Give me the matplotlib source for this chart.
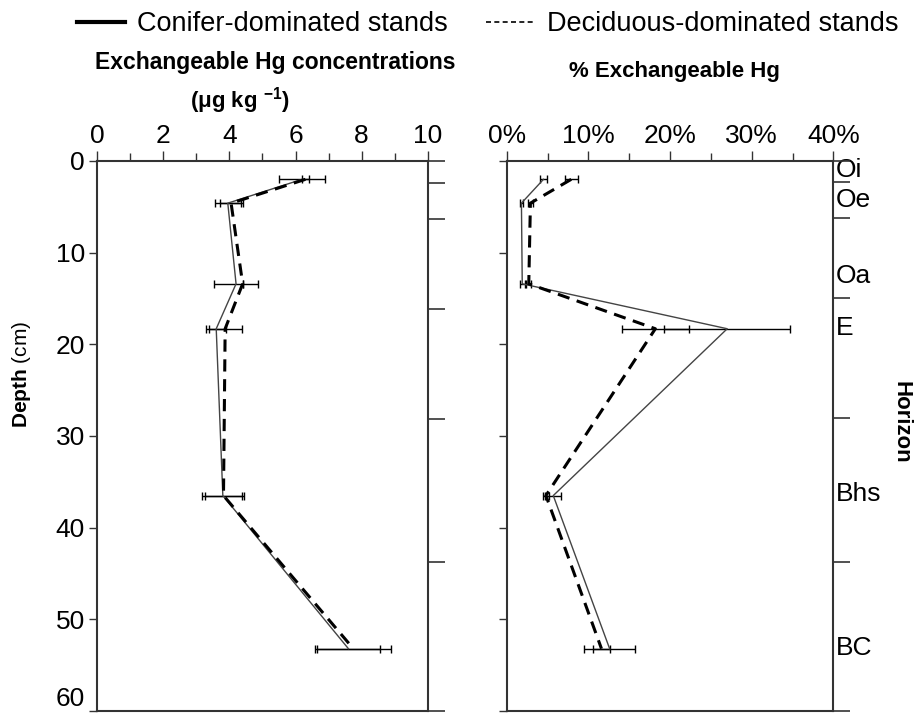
import matplotlib
matplotlib.use('Agg')
import matplotlib.pyplot as plt
from matplotlib.lines import Line2D
from matplotlib.ticker import MultipleLocator, FuncFormatter

plt.rcParams['font.family'] = ['Liberation Sans', 'DejaVu Sans']
plt.rcParams['mathtext.fontset'] = 'custom'
plt.rcParams['mathtext.rm'] = 'Liberation Sans'
plt.rcParams['mathtext.bf'] = 'Liberation Sans:bold'

# ── Data ──────────────────────────────────────────────────────
depth = [2.0, 4.6, 13.4, 18.3, 36.5, 53.2]

conc_conifer     = [6.2, 3.95, 4.2, 3.6, 3.8, 7.6]
conc_conifer_err = [0.7, 0.4, 0.67, 0.3, 0.63, 0.95]
conc_decid       = [6.3, 4.05, 4.4, 3.87, 3.82, 7.75]
conc_decid_err   = [0.1, 0.35, 0.0, 0.5, 0.55, 1.15]

pct_conifer     = [4.5, 1.8, 1.9, 27.0, 5.7, 12.6]
pct_conifer_err = [0.4, 0.2, 0.3, 7.7, 1.0, 3.1]
pct_decid       = [7.9, 2.9, 2.7, 18.2, 4.8, 11.6]
pct_decid_err   = [0.8, 0.3, 0.3, 4.1, 0.4, 1.0]

depth_ticks    = [0, 10, 20, 30, 40, 50, 60]
horizons       = ['Oi', 'Oe', 'Oa', 'E', 'Bhs', 'BC']
horizon_depth  = [1.0, 4.3, 12.6, 18.2, 36.3, 53.1]
bounds_left    = [0, 2.4, 6.3, 16.1, 28.2, 43.8, 60]
bounds_right   = [0, 2.3, 6.2, 15.0, 28.0, 43.7, 60]

# ── Figure ────────────────────────────────────────────────────
fig = plt.figure(figsize=(9.16, 7.2), dpi=100)
ax1 = fig.add_axes([0.1062, 0.0125, 0.3607, 0.7639])
ax2 = fig.add_axes([0.5532, 0.0125, 0.3566, 0.7639])

SPINE = '#333333'
TICK_FS = 19
solid_kw = dict(color='#444444', lw=1.0)
dash_kw = dict(color='black', lw=2.2, dashes=(4, 2.5))
err_kw = dict(fmt='none', ecolor='black', elinewidth=1.0, capsize=3, capthick=1.0)


def style_axes(ax, bounds):
    ax.set_ylim(60, 0)
    ax.set_yticks(depth_ticks)
    ax.xaxis.tick_top()
    for s in ax.spines.values():
        s.set_color(SPINE)
        s.set_linewidth(1.5)
    ax.tick_params(axis='x', which='major', direction='out', length=7, width=1,
                   color=SPINE, labelsize=TICK_FS, pad=2)
    ax.tick_params(axis='x', which='minor', direction='out', length=6, width=1,
                   color=SPINE)
    ax.tick_params(axis='y', which='major', direction='out', length=6, width=1,
                   color=SPINE, labelsize=TICK_FS, pad=3)
    # horizon boundaries on the right-hand spine
    axr = ax.twinx()
    axr.set_ylim(60, 0)
    axr.set_yticks(bounds)
    axr.tick_params(axis='y', direction='out', length=12, width=1.2,
                    color=SPINE, labelright=False)
    for s in axr.spines.values():
        s.set_visible(False)
    return axr


# Left panel: concentrations
style_axes(ax1, bounds_left)
ax1.set_xlim(0, 10)
ax1.xaxis.set_major_locator(MultipleLocator(2))
ax1.xaxis.set_minor_locator(MultipleLocator(1))
ax1.errorbar(conc_conifer, depth, xerr=conc_conifer_err, **err_kw)
ax1.errorbar(conc_decid, depth, xerr=conc_decid_err, **err_kw)
ax1.plot(conc_conifer, depth, **solid_kw)
ax1.plot(conc_decid, depth, **dash_kw)
ax1.yaxis.get_major_ticks()[-1].label1.set_va('bottom')  # keep "60" inside

fig.text(0.024, 0.48, r'$\mathbf{Depth}$ (cm)', rotation=90, fontsize=15,
         ha='center', va='center')

# Right panel: % exchangeable
style_axes(ax2, bounds_right)
ax2.set_xlim(0, 40)
ax2.xaxis.set_major_locator(MultipleLocator(10))
ax2.xaxis.set_minor_locator(MultipleLocator(5))
ax2.xaxis.set_major_formatter(FuncFormatter(lambda v, p: f'{v:.0f}%'))
ax2.tick_params(axis='y', labelleft=False)
ax2.errorbar(pct_conifer, depth, xerr=pct_conifer_err, **err_kw)
ax2.errorbar(pct_decid, depth, xerr=pct_decid_err, **err_kw)
ax2.plot(pct_conifer, depth, **solid_kw)
ax2.plot(pct_decid, depth, **dash_kw)

for name, d in zip(horizons, horizon_depth):
    ax2.text(1.008, d, name, transform=ax2.get_yaxis_transform(),
             fontsize=19, va='center', ha='left')
fig.text(0.984, 0.413, 'Horizon', rotation=270, fontsize=16,
         fontweight='bold', ha='center', va='center')

# Titles
fig.text(0.301, 0.913, 'Exchangeable Hg concentrations', fontsize=16.5,
         fontweight='bold', ha='center', va='center')
fig.text(0.262, 0.861, r'($\mathbf{\mu}$g kg $^{\mathbf{-1}}$)', fontsize=16,
         fontweight='bold', ha='center', va='center')
fig.text(0.736, 0.9, '% Exchangeable Hg', fontsize=16, fontweight='bold',
         ha='center', va='center')

# Legend
handles = [Line2D([], [], color='black', lw=3),
           Line2D([], [], color='black', lw=1.2, dashes=(3, 2))]
fig.legend(handles, ['Conifer-dominated stands', 'Deciduous-dominated stands'],
           loc='center', bbox_to_anchor=(0.532, 0.966), ncol=2, frameon=False,
           fontsize=19.5, handlelength=1.8, handletextpad=0.42,
           columnspacing=1.44, borderpad=0.2)

plt.savefig('out.png', dpi=100)
